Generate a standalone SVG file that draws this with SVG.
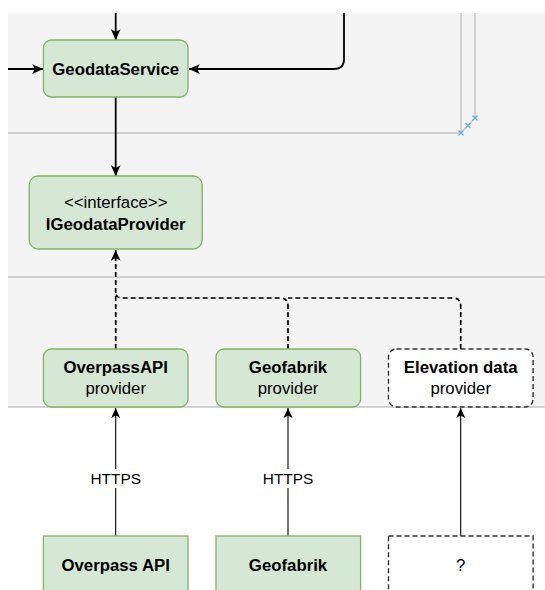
<svg xmlns="http://www.w3.org/2000/svg" width="545" height="590" viewBox="0 0 545 590">
<style>
.node{fill:#d5e8d4;stroke:#82b366;stroke-width:1.3}
.dnode{fill:#ffffff;stroke:#333333;stroke-width:1.4;stroke-dasharray:5 3}
.t{font-family:"Liberation Sans",Arial,Helvetica,sans-serif;font-size:16.8px;fill:#000;text-anchor:middle}
.b{font-weight:bold}
.lbl{font-size:15.4px}
.sep{stroke:#c4c4c4;stroke-width:1.3;fill:none}
.c{fill:none;stroke:#000;stroke-width:1.8}
.cd{fill:none;stroke:#000;stroke-width:1.7;stroke-dasharray:5 3}
.ct{fill:none;stroke:#000;stroke-width:1.1}
.h{stroke:#5aaee8;stroke-width:1.1}
</style>
<defs>
<marker id="arr" viewBox="0 0 12 12" refX="11" refY="6" markerWidth="13" markerHeight="13" markerUnits="userSpaceOnUse" orient="auto">
<path d="M1,1.5 L11,6 L1,10.5 L3.5,6 Z" fill="#000"/>
</marker>
<marker id="arrs" viewBox="0 0 12 12" refX="11" refY="6" markerWidth="12" markerHeight="12" markerUnits="userSpaceOnUse" orient="auto">
<path d="M1,1.5 L11,6 L1,10.5 L3.5,6 Z" fill="#000"/>
</marker>
</defs>
<rect x="0" y="0" width="545" height="590" fill="#ffffff"/>
<g id="background">
<rect x="8" y="13" width="537" height="394" fill="#f4f4f4"/>
<path class="sep" d="M8,133 H461 V13"/>
<path class="sep" d="M461,133 L475,118 V13"/>
<line class="sep" x1="8" y1="277" x2="545" y2="277"/>
<line class="sep" x1="8" y1="407" x2="545" y2="407"/>
<path class="h" d="M458.5,130.5 l5,5 m0,-5 l-5,5 M465.5,123 l5,5 m0,-5 l-5,5 M472.5,115.5 l5,5 m0,-5 l-5,5"/>
</g>
<g id="connectors">
<line class="c" x1="115.7" y1="13" x2="115.7" y2="40" marker-end="url(#arr)"/>
<line class="c" x1="8" y1="69" x2="43" y2="69" marker-end="url(#arr)"/>
<path class="c" d="M344,13 V59 Q344,69 334,69 H189" marker-end="url(#arr)"/>
<line class="c" x1="115.7" y1="97" x2="115.7" y2="176" marker-end="url(#arr)"/>
<path class="cd" d="M115.7,349 V250" marker-end="url(#arr)"/>
<path class="cd" d="M288,349 V306 Q288,298 280,298 H121.7 Q115.7,298 115.7,292"/>
<path class="cd" d="M460.7,349 V306 Q460.7,298 452.7,298 H288"/>
<line class="ct" x1="115.7" y1="536" x2="115.7" y2="408" marker-end="url(#arrs)"/>
<line class="ct" x1="288" y1="536" x2="288" y2="408" marker-end="url(#arrs)"/>
<line class="ct" x1="460.7" y1="536" x2="460.7" y2="408" marker-end="url(#arrs)"/>
<rect x="89" y="469" width="53" height="19" fill="#ffffff"/>
<text class="t lbl" x="115.7" y="483.5">HTTPS</text>
<rect x="261.5" y="469" width="53" height="19" fill="#ffffff"/>
<text class="t lbl" x="288" y="483.5">HTTPS</text>
</g>
<g id="geodataService">
<rect class="node" x="43.4" y="40" width="144.6" height="57" rx="8"/>
<text class="t b" x="115.7" y="75">GeodataService</text>
</g>
<g id="iGeodataProvider">
<rect class="node" x="29.2" y="176" width="173" height="73" rx="9"/>
<text class="t" x="115.7" y="208">&lt;&lt;interface&gt;&gt;</text>
<text class="t b" x="115.7" y="229.5">IGeodataProvider</text>
</g>
<g id="overpassProvider">
<rect class="node" x="43.4" y="349" width="144.6" height="58" rx="8"/>
<text class="t b" x="115.7" y="373">OverpassAPI</text>
<text class="t" x="115.7" y="394">provider</text>
</g>
<g id="geofabrikProvider">
<rect class="node" x="216" y="349" width="144.6" height="58" rx="8"/>
<text class="t b" x="288" y="373">Geofabrik</text>
<text class="t" x="288" y="394">provider</text>
</g>
<g id="elevationProvider">
<rect class="dnode" x="388.5" y="349" width="144.6" height="58" rx="8"/>
<text class="t b" x="460.7" y="373">Elevation data</text>
<text class="t" x="460.7" y="394">provider</text>
</g>
<g id="overpassApi">
<rect class="node" x="43.4" y="536" width="144.6" height="70"/>
<text class="t b" x="115.7" y="571">Overpass API</text>
</g>
<g id="geofabrik">
<rect class="node" x="216" y="536" width="144.6" height="70"/>
<text class="t b" x="288" y="571">Geofabrik</text>
</g>
<g id="unknownSource">
<rect class="dnode" x="388.5" y="536" width="144.6" height="70"/>
<text class="t" x="460.7" y="571">?</text>
</g>
</svg>
